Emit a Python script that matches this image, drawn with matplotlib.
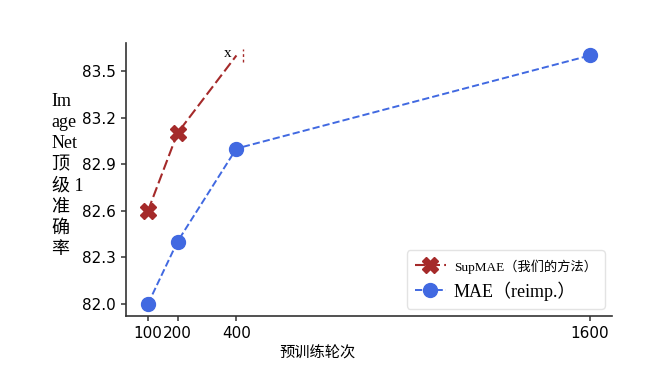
import matplotlib
matplotlib.use('Agg')
from matplotlib import pyplot as plt
from matplotlib.transforms import offset_copy

plt.rcParams['font.family'] = 'DejaVu Sans'
SERIF_CJK = ['Liberation Serif', 'Noto Sans CJK SC']

# data
sup_epochs = [100, 200, 400]
sup_acc = [82.6, 83.1, 83.6]
mae_epochs = [100, 200, 400, 1600]
mae_acc = [82.0, 82.4, 83.0, 83.6]
x_ticks = [100, 200, 400, 1600]
y_ticks = [82.0, 82.3, 82.6, 82.9, 83.2, 83.5]
sup_label = 'SupMAE（我们的方法）'
mae_label = 'MAE（reimp.）'
y_label = 'Im\nage\nNet\n顶\n级 1\n准\n确\n率'
x_label = '预训练轮次'

RED = '#a52a2a'
BLUE = '#4169e1'


def plot_res():
    fig = plt.figure(figsize=(6.56, 3.68), dpi=100)
    ax = fig.add_axes([0.192, 0.141, 0.741, 0.742])

    ax.plot(sup_epochs, sup_acc, color=RED, linestyle=(0, (5, 2)), linewidth=1.5,
            marker='X', markersize=12, markevery=[0, 1], label=sup_label)
    ax.plot(mae_epochs, mae_acc, color=BLUE, linestyle='--', linewidth=1.4,
            marker='o', markersize=10, label=mae_label)

    # the odd leftover at the last SupMAE point
    ax.annotate('x', xy=(sup_epochs[-1], sup_acc[-1]), xytext=(-6, 1.5),
                textcoords='offset points', fontsize=11, family=SERIF_CJK,
                ha='center', va='center', annotation_clip=False)
    tr = offset_copy(ax.transData, fig=fig, x=5, y=0, units='points')
    ax.plot([sup_epochs[-1]] * 2, [sup_acc[-1] - 0.04, sup_acc[-1] + 0.04],
            color=RED, linestyle=(0, (2, 2)), linewidth=1.0, transform=tr,
            clip_on=False)

    ax.set_xticks(x_ticks)
    ax.set_yticks(y_ticks)
    ax.set_yticklabels([f'{v:.1f}' for v in y_ticks])
    ax.tick_params(labelsize=11, color='#333333', width=1.1)

    for s in ['top', 'right']:
        ax.spines[s].set_visible(False)
    for s in ['left', 'bottom']:
        ax.spines[s].set_color('#333333')
        ax.spines[s].set_linewidth(1.2)

    ax.set_xlabel(x_label, fontsize=11, family=SERIF_CJK)
    ax.xaxis.set_label_coords(0.395, -0.11)
    ax.set_ylabel(y_label, rotation=0, fontsize=13, family=SERIF_CJK,
                  linespacing=1.32, ha='left', va='center')
    ax.yaxis.set_label_coords(-0.153, 0.515)

    leg = ax.legend(loc='lower right', frameon=True, borderpad=0.45,
                    handlelength=1.7, handletextpad=0.45, labelspacing=0.4,
                    borderaxespad=0.4, prop={'family': SERIF_CJK, 'size': 13},
                    bbox_to_anchor=(1.0, 0.0))
    leg.get_texts()[0].set_fontsize(9.5)
    leg.get_frame().set_edgecolor('#dddddd')

    plt.savefig('out.png', dpi=100)
    plt.close()


if __name__ == '__main__':
    plot_res()
